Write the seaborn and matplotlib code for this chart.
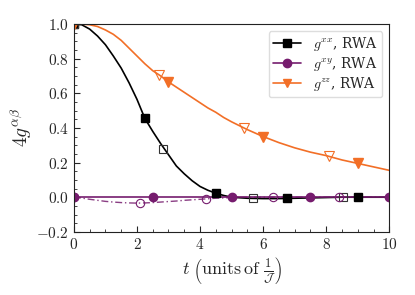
import numpy as np
import pandas as pd
import seaborn as sns
import matplotlib.pyplot as plt
from matplotlib.lines import Line2D
from matplotlib.ticker import MultipleLocator, FuncFormatter

# curve samples
t = [0, 0.25, 0.5, 0.75, 1.0, 1.25, 1.5, 1.75, 2.0, 2.25, 2.5, 2.75, 3.0, 3.25, 3.5,
     3.75, 4.0, 4.25, 4.5, 4.75, 5.0, 5.5, 6.0, 6.5, 7.0, 7.5, 8.0, 8.5, 9.0, 9.5, 10]
gxx = [1.0, 0.995, 0.97, 0.93, 0.88, 0.815, 0.745, 0.66, 0.565, 0.455, 0.38, 0.31, 0.245,
       0.18, 0.135, 0.095, 0.062, 0.04, 0.023, 0.01, 0.0, -0.006, -0.008, -0.008, -0.006,
       -0.004, -0.002, 0.0, 0.0, 0.0, 0.0]
gxy = [0.0] * len(t)
gxy_exact = [0.0, -0.005, -0.012, -0.018, -0.024, -0.028, -0.031, -0.033, -0.034, -0.033,
             -0.031, -0.028, -0.025, -0.022, -0.018, -0.015, -0.012, -0.009, -0.006, -0.004,
             -0.002, 0.0, 0.0, 0.0, 0.0, 0.0, 0.0, 0.0, 0.0, 0.0, 0.0]
gzz = [1.0, 0.999, 0.995, 0.985, 0.965, 0.94, 0.905, 0.86, 0.815, 0.77, 0.73, 0.70, 0.665,
       0.635, 0.605, 0.575, 0.545, 0.515, 0.49, 0.46, 0.435, 0.39, 0.35, 0.315, 0.285,
       0.26, 0.24, 0.215, 0.195, 0.175, 0.155]

# marker points (filled = RWA, open = exact)
xx_t, xx_y = [0, 2.25, 4.5, 6.75, 9], [1.0, 0.455, 0.023, -0.007, 0.0]
xx_t_open, xx_y_open = [0, 2.84, 5.68, 8.52], [1.0, 0.277, -0.007, -0.001]
xy_t, xy_y = [0, 2.5, 5, 7.5, 10], [0.0, 0.0, 0.0, 0.0, 0.0]
xy_t_open, xy_y_open = [0, 2.1, 4.2, 6.3, 8.4], [0.0, -0.034, -0.01, 0.0, 0.0]
zz_t, zz_y = [0, 3, 6, 9], [1.0, 0.665, 0.35, 0.195]
zz_t_open, zz_y_open = [0, 2.7, 5.4, 8.1], [1.0, 0.705, 0.40, 0.235]

labels = [r"$g^{xx}$, RWA", r"$g^{xy}$, RWA", r"$g^{zz}$, RWA"]
colors = ["#000000", "#761c6e", "#f26f27"]

sns.set_style("ticks")
plt.rcParams.update({
    "font.family": "serif",
    "font.serif": ["DejaVu Serif"],
    "mathtext.fontset": "cm",
    "font.size": 10,
    "xtick.direction": "in",
    "ytick.direction": "in",
    "xtick.major.size": 4,
    "ytick.major.size": 4,
    "xtick.minor.size": 2,
    "ytick.minor.size": 2,
    "axes.linewidth": 0.8,
    "axes.edgecolor": "#222222",
})

df = pd.DataFrame({"t": t, "gxx": gxx, "gxy": gxy, "gxy_exact": gxy_exact, "gzz": gzz})

fig = plt.figure(figsize=(4.15, 2.95), dpi=100)
ax = fig.add_axes([0.178, 0.214, 0.760, 0.705])

sns.lineplot(data=df, x="t", y="gxy_exact", color=colors[1], lw=1.0, ax=ax,
             linestyle=(0, (5, 2, 1, 2)), alpha=0.85)
sns.lineplot(data=df, x="t", y="gxx", color=colors[0], lw=1.2, ax=ax)
sns.lineplot(data=df, x="t", y="gxy", color=colors[1], lw=1.2, ax=ax)
sns.lineplot(data=df, x="t", y="gzz", color=colors[2], lw=1.2, ax=ax)

ms = 6
ax.plot(xx_t, xx_y, ls="none", marker="s", ms=ms, color=colors[0])
ax.plot(xx_t_open, xx_y_open, ls="none", marker="s", ms=ms, mfc="none", mec="#333333", mew=0.8)
ax.plot(xy_t, xy_y, ls="none", marker="o", ms=ms, color=colors[1])
ax.plot(xy_t_open, xy_y_open, ls="none", marker="o", ms=ms, mfc="none", mec=colors[1], mew=0.8)
ax.plot(zz_t, zz_y, ls="none", marker="v", ms=ms + 1, color=colors[2])
ax.plot(zz_t_open, zz_y_open, ls="none", marker="v", ms=ms + 1, mfc="none", mec=colors[2], mew=0.8)

ax.set_xlim(0, 10)
ax.set_ylim(-0.2, 1.0)
ax.xaxis.set_major_locator(MultipleLocator(2))
ax.xaxis.set_minor_locator(MultipleLocator(0.5))
ax.yaxis.set_major_locator(MultipleLocator(0.2))
ax.yaxis.set_minor_locator(MultipleLocator(0.05))
ax.xaxis.set_major_formatter(FuncFormatter(lambda v, p: f"${v:.0f}$"))
ax.yaxis.set_major_formatter(FuncFormatter(lambda v, p: f"${v:.1f}$"))
ax.tick_params(labelsize=11)

ax.set_xlabel(r"$t\ \left(\mathrm{units\,of}\ \frac{1}{\mathcal{J}}\right)$", fontsize=13, labelpad=2)
ax.set_ylabel(r"$4g^{\alpha\beta}$", fontsize=14, labelpad=2)

handles = [
    Line2D([], [], color=colors[0], marker="s", ms=ms, lw=1.2),
    Line2D([], [], color=colors[1], marker="o", ms=ms, lw=1.2),
    Line2D([], [], color=colors[2], marker="v", ms=ms, lw=1.2),
]
ax.legend(handles, labels, loc="upper right", fontsize=10, handlelength=2.0,
          borderpad=0.3, labelspacing=0.15, handletextpad=0.9, framealpha=1,
          edgecolor="#dddddd", fancybox=True)

fig.savefig("out.png", dpi=100)
